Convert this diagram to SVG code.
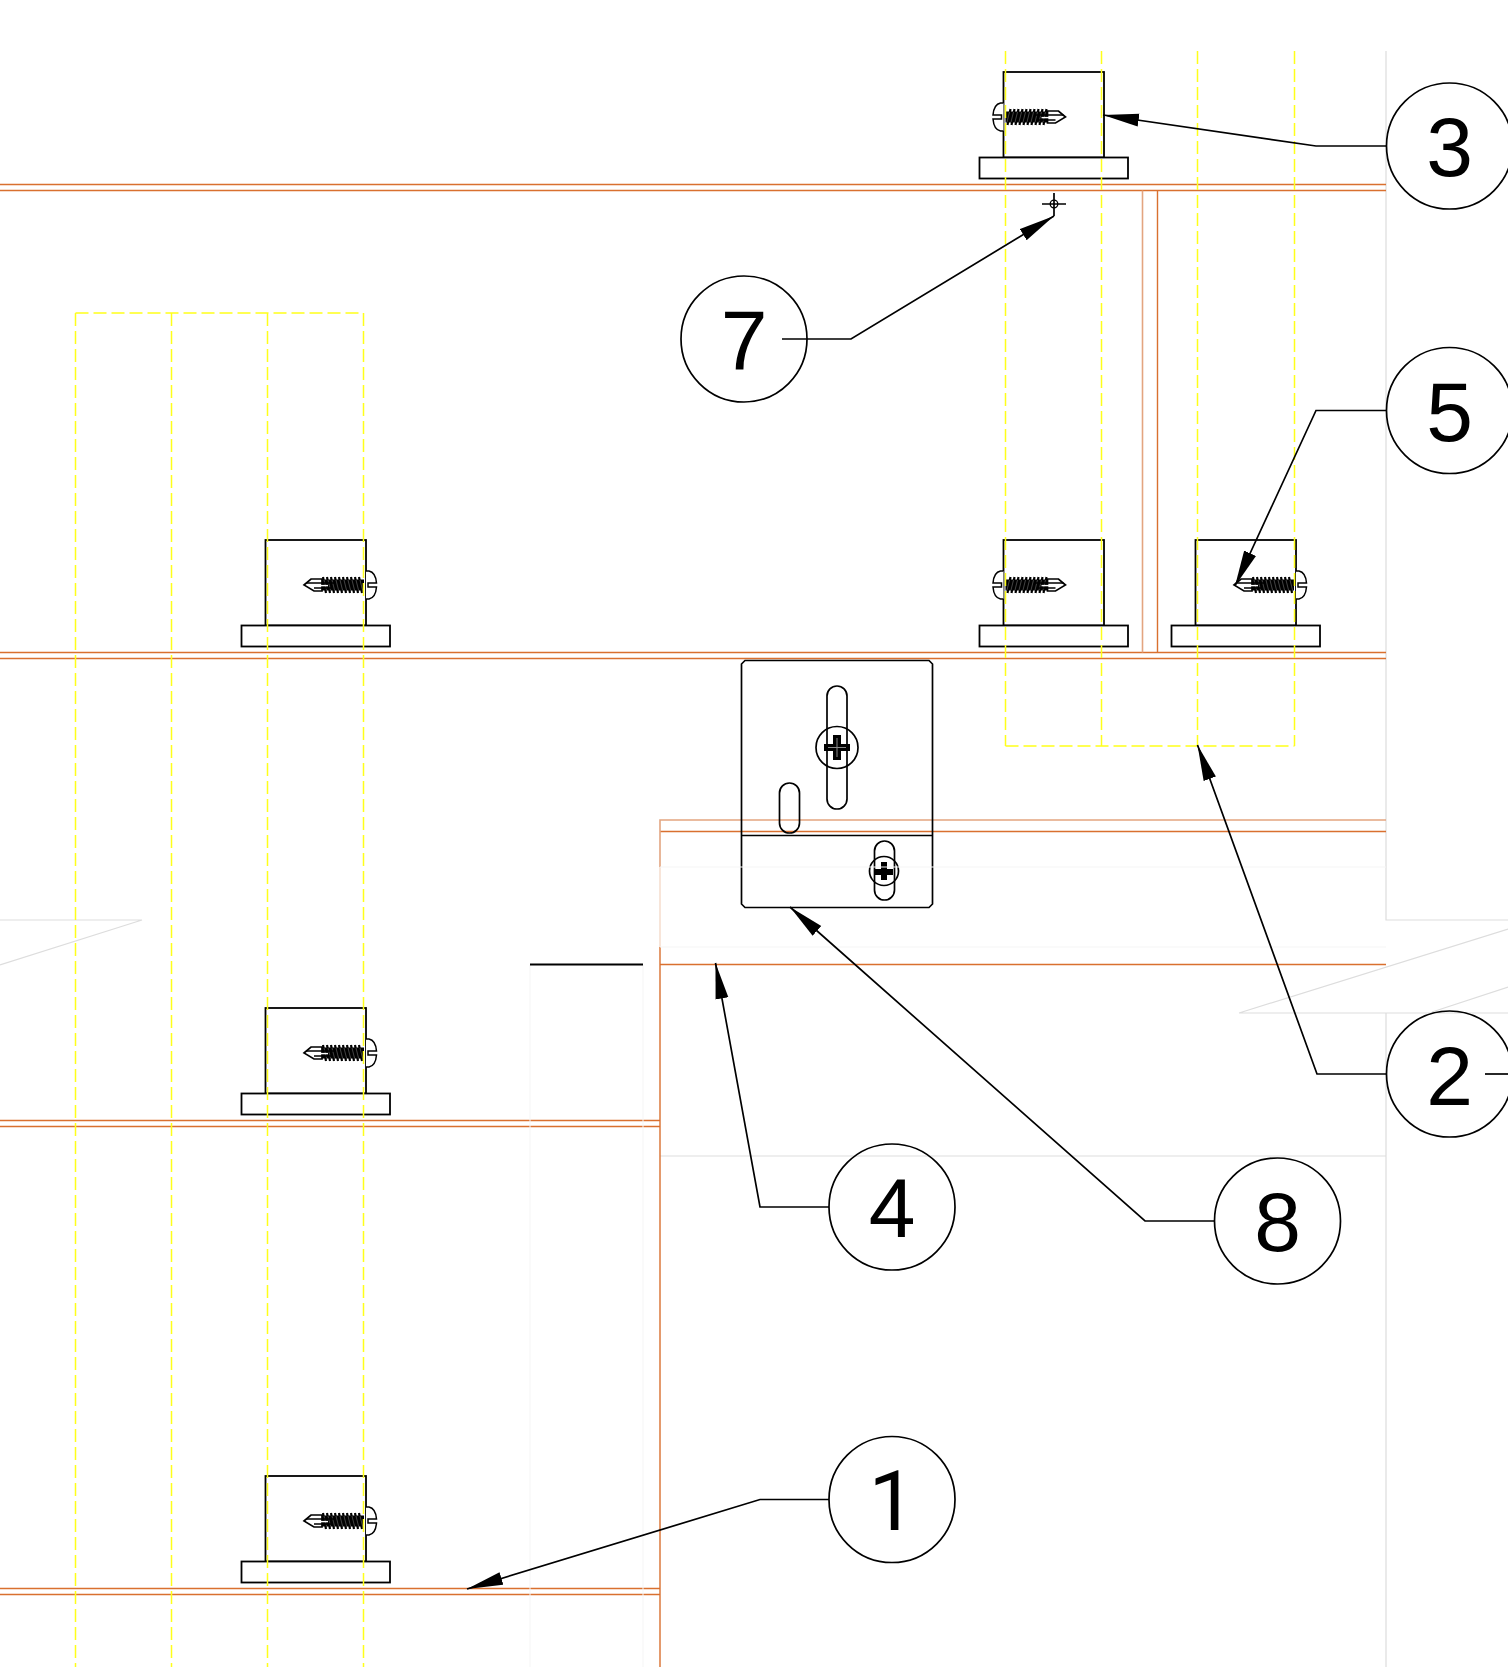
<svg xmlns="http://www.w3.org/2000/svg" width="1508" height="1671" viewBox="0 0 1508 1671">
<style>
.o{stroke:#d9702f;stroke-width:1.4;fill:none}
.ol{stroke:#e3a580;stroke-width:1.6;fill:none}
.op{stroke:#f6dfd0;stroke-width:1.6;fill:none}
.g{stroke:#dddddd;stroke-width:1.2;fill:none}
.f{stroke:#f5f5f5;stroke-width:1;fill:none}
.y{stroke:#ffff1a;stroke-width:1.5;fill:none;stroke-dasharray:13 5}
.k{stroke:#000;stroke-width:1.8;fill:#fff}
.n{stroke:#000;stroke-width:1.7;fill:none}
.l{stroke:#000;stroke-width:1.7;fill:none;marker-end:url(#arrow)}
.t{font-family:"Liberation Sans",Arial,sans-serif;font-size:84px;text-anchor:middle;fill:#000}
</style>
<defs>
<marker id="arrow" markerUnits="userSpaceOnUse" markerWidth="40" markerHeight="16" refX="36" refY="7" orient="auto">
<path d="M36,7 L0,0.5 L0,13.5 Z" fill="#000"/>
</marker>
<g id="screw">
<path d="M0,-14 H-3 C-8,-13 -10,-8 -10.5,-2 H-2 V2 H-10.5 C-10,8 -8,13 -3,14 H0" fill="#fff" stroke="#000" stroke-width="1.5"/>
<rect x="2" y="-5.5" width="43" height="11" fill="#000"/>
<path d="M7,-8 L4,8 M11,-8 L8,8 M15,-8 L12,8 M19,-8 L16,8 M23,-8 L20,8 M27,-8 L24,8 M31,-8 L28,8 M35,-8 L32,8 M39,-8 L36,8 M43,-8 L40,8" stroke="#000" stroke-width="2.2"/>
<path d="M6,-5 L3.5,5 M10,-5 L7.5,5 M14,-5 L11.5,5 M18,-5 L15.5,5 M22,-5 L19.5,5 M26,-5 L23.5,5 M30,-5 L27.5,5 M34,-5 L31.5,5 M38,-5 L35.5,5 M42,-5 L39.5,5" stroke="#888" stroke-width=".5"/>
<path d="M44,-6 H55 L62,0 L52,6 H44 Z" fill="#fff" stroke="#000" stroke-width="1.7"/>
<path d="M32,-2 H60 M34,3 H52" stroke="#000" stroke-width="1.6"/>
<path d="M38,.6 H51" stroke="#fff" stroke-width="1.4"/>
</g>
<g id="bracket">
<rect class="k" x="0" y="0" width="100.5" height="85.5"/>
<rect class="k" x="-24" y="85.5" width="148.5" height="21"/>
</g>
</defs>
<rect width="1508" height="1671" fill="#fff"/>

<g id="background-lines">
<path class="g" d="M1386,51 V920 H1508 M1239,1013 H1508 M1239,1013 L1508,929 M1432,1012 L1508,987 M1386,1013 V1667 M660,1156 H1386 M0,920 H142 L0,965"/>
</g>

<g id="orange-lines">
<path class="o" d="M0,184.5 H1386 M0,190.5 H1386 M0,652.5 H1386 M0,658.5 H1386 M1157.5,190.5 V652.5 M0,1120.5 H660 M0,1126.5 H660 M0,1588.5 H660 M0,1594.5 H660 M660,947 V1667 M660,831.5 H1386 M660,964.5 H1386"/>
<path class="ol" d="M660,867 V820 H1386 M1142.5,190.5 V652.5"/>
<path class="op" d="M660,867 V947"/>
</g>

<g id="bracket-top"><use href="#bracket" x="1003.5" y="72"/><use href="#screw" x="1003.5" y="117"/></g>
<g id="bracket-mid-a"><use href="#bracket" x="1003.5" y="540"/><use href="#screw" x="1003.5" y="585"/></g>
<g id="bracket-mid-b"><use href="#bracket" x="1195.5" y="540"/><use href="#screw" transform="translate(1296,585) scale(-1,1)"/></g>
<g id="bracket-left-1"><use href="#bracket" x="265.5" y="540"/><use href="#screw" transform="translate(366,585) scale(-1,1)"/></g>
<g id="bracket-left-2"><use href="#bracket" x="265.5" y="1008"/><use href="#screw" transform="translate(366,1053) scale(-1,1)"/></g>
<g id="bracket-left-3"><use href="#bracket" x="265.5" y="1476"/><use href="#screw" transform="translate(366,1521) scale(-1,1)"/></g>

<g id="plate">
<path class="n" d="M745,660.5 H929 L932.5,664 V904 L929,907.5 H745 L741.5,904 V664 Z"/>
<path class="n" d="M741.5,835.5 H932.5"/>
<rect class="n" x="827" y="686" width="20" height="123" rx="10"/>
<circle class="n" cx="837" cy="747.5" r="21"/>
<path d="M824,744 H833 V735 H841 V744 H850 V751 H841 V760 H833 V751 H824 Z" fill="#000"/>
<path d="M837,738 V757 M828,747.5 H846" stroke="#888" stroke-width="1"/>
<rect class="n" x="779.5" y="783" width="20" height="50" rx="10"/>
<rect class="n" x="874.5" y="841" width="20" height="59" rx="10"/>
<circle class="n" cx="884" cy="871" r="14.5"/>
<path d="M875,869 H881 V862 H887 V869 H893 V875 H887 V880 H881 V875 H875 Z" fill="#000"/>
</g>

<g id="faint-lines">
<path class="f" d="M660,867 H1386 M660,947 H1386 M530,965 V1667 M643,965 V1667"/>
</g>

<g id="crosshair">
<circle cx="1054" cy="204" r="3.8" fill="none" stroke="#000" stroke-width="1.3"/>
<path class="n" d="M1042,204 H1066 M1054,193 V216"/>
</g>
<path id="dash" d="M530,964.5 H643" stroke="#000" stroke-width="2" fill="none"/>

<g id="yellow-lines">
<path class="y" d="M1005.5,51 V746 M1101.5,51 V746 M1197.5,51 V746 M1294.5,51 V746 M1005.5,746 H1294.5"/>
<path class="y" d="M75.5,313 V1667 M171.5,313 V1667 M267.5,313 V1667 M363.5,313 V1667 M75.5,313 H363.5"/>
</g>

<g id="connectors">
<path class="l" d="M1386,146 H1316 L1103,115"/>
<path class="l" d="M1386,410.5 H1316 L1235,586"/>
<path class="l" d="M1386,1074 H1317 L1197.5,745"/>
<path class="n" d="M1485,1074 H1508"/>
<path class="l" d="M782,339 H851 L1054,216"/>
<path class="l" d="M829,1207 H760 L715.5,963"/>
<path class="l" d="M1214,1221 H1145 L790,907"/>
<path class="l" d="M829,1499.5 H760 L467,1589"/>
</g>

<g id="callout-3"><circle class="n" cx="1449.5" cy="146" r="63"/><text class="t" x="1449.5" y="176">3</text></g>
<g id="callout-5"><circle class="n" cx="1449.5" cy="410.5" r="63"/><text class="t" x="1449.5" y="440.5">5</text></g>
<g id="callout-2"><circle class="n" cx="1449.5" cy="1074" r="63"/><text class="t" x="1449.5" y="1104.5">2</text></g>
<g id="callout-7"><circle class="n" cx="744" cy="339" r="63"/><text class="t" x="744" y="369">7</text></g>
<g id="callout-4"><circle class="n" cx="892" cy="1207" r="63"/><text class="t" x="892" y="1237">4</text></g>
<g id="callout-8"><circle class="n" cx="1277.5" cy="1221" r="63"/><text class="t" x="1277.5" y="1251">8</text></g>
<g id="callout-1"><circle class="n" cx="892" cy="1499.5" r="63"/><text class="t" style="font-family:Roboto,'Liberation Sans',sans-serif" x="892" y="1529.5">1</text></g>
</svg>
